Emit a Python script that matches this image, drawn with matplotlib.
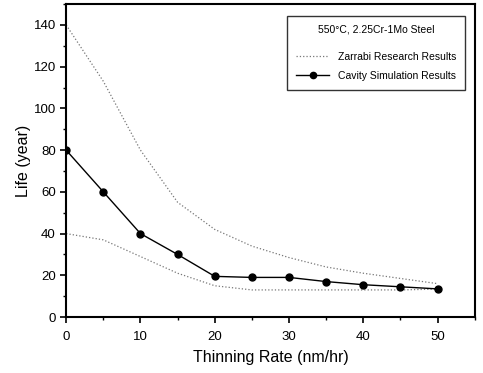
import numpy as np
import matplotlib.pyplot as plt
from matplotlib.lines import Line2D
from matplotlib.ticker import MultipleLocator

plt.rcParams["font.family"] = "Liberation Sans"

# thinning rate (nm/hr)
rate = np.array([0, 5, 10, 15, 20, 25, 30, 35, 40, 45, 50])

# cavity simulation life (year)
cavity = np.array([80, 60, 40, 30, 19.5, 19, 19, 17, 15.5, 14.5, 13.5])

# Zarrabi research bounds (year)
zarrabi_hi = np.array([140, 113, 80, 55, 42, 34, 28.5, 24, 21, 18.5, 16])
zarrabi_lo = np.array([40, 37, 29, 21, 15, 13, 13, 13, 13, 13, 13.4])

fig = plt.figure(figsize=(4.83, 3.73), dpi=100)
ax = fig.add_axes([0.137, 0.150, 0.846, 0.839])

ax.plot(rate, zarrabi_hi, color='#777777', linestyle=':', linewidth=0.9)
ax.plot(rate, zarrabi_lo, color='#777777', linestyle=':', linewidth=0.9)
ax.plot(rate, cavity, color='black', linewidth=1.0, marker='o', markersize=5)

ax.set_xlim(0, 55)
ax.set_ylim(0, 150)
ax.xaxis.set_major_locator(MultipleLocator(10))
ax.xaxis.set_minor_locator(MultipleLocator(5))
ax.yaxis.set_minor_locator(MultipleLocator(10))
ax.set_yticks([0, 20, 40, 60, 80, 100, 120, 140])
ax.tick_params(which='major', direction='out', length=4, width=1.2, labelsize=9.5)
ax.tick_params(axis='x', which='major', pad=6)
ax.tick_params(which='minor', direction='out', length=2.5, width=1.0)
for s in ax.spines.values():
    s.set_linewidth(1.5)

ax.set_xlabel('Thinning Rate (nm/hr)', fontsize=11.5, labelpad=5)
ax.set_ylabel('Life (year)', fontsize=11.5, labelpad=2)

handles = [
    Line2D([], [], color='#777777', linestyle=':', linewidth=0.9),
    Line2D([], [], color='black', linewidth=1.0, marker='o', markersize=4.5),
]
labels = ['Zarrabi Research Results', 'Cavity Simulation Results']
leg = ax.legend(handles, labels, title='550\u00b0C, 2.25Cr-1Mo Steel', loc='upper right',
                bbox_to_anchor=(0.99, 0.98), fontsize=7.5, title_fontsize=7.5, fancybox=False,
                edgecolor='black', handlelength=3.2, labelspacing=0.9, borderpad=0.9)
leg.get_frame().set_linewidth(1.0)
leg._legend_box.sep = 12

fig.savefig('out.png')
